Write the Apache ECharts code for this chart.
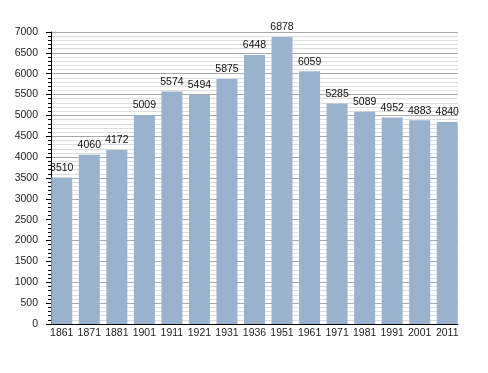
<!DOCTYPE html>
<html><head><meta charset="utf-8">
<script src="https://cdn.jsdelivr.net/npm/echarts@6/dist/echarts.min.js"></script>
<style>html,body{margin:0;padding:0;background:#fff}#c{width:488px;height:373px}</style>
</head><body><div id="c"></div>
<script>
const years = ['1861','1871','1881','1901','1911','1921','1931','1936','1951','1961','1971','1981','1991','2001','2011'];
const population = [3510,4060,4172,5009,5574,5494,5875,6448,6878,6059,5285,5089,4952,4883,4840];
const yMin = 0, yMax = 7000, yStep = 500;

const font = 'Liberation Sans, Arial, sans-serif';
const chart = echarts.init(document.getElementById('c'), null, {renderer:'canvas'});
chart.setOption({
  animation:false,
  backgroundColor:'#fff',
  grid:[
    {left:48, top:32, width:413, height:292},
    {left:51, top:32, width:407, height:292}
  ],
  xAxis:[
    {gridIndex:0, type:'category', data:years, boundaryGap:true,
     axisLine:{show:false}, axisTick:{show:false},
     axisLabel:{color:'#222', fontFamily:font, fontSize:10.5, margin:4, interval:0}},
    {gridIndex:1, type:'value', min:0, max:1, show:true,
     axisLine:{show:true, onZero:false, lineStyle:{color:'#000', width:1}},
     axisTick:{show:false}, axisLabel:{show:false}, splitLine:{show:false}}
  ],
  yAxis:[
    {gridIndex:0, type:'value', min:yMin, max:yMax, interval:yStep, show:false, splitLine:{show:false}},
    {gridIndex:1, type:'value', min:yMin, max:yMax, interval:yStep,
     axisLine:{show:true, lineStyle:{color:'#000', width:1}},
     axisTick:{show:true, length:5, lineStyle:{color:'#000'}},
     minorTick:{show:true, splitNumber:5, length:3, lineStyle:{color:'#000'}},
     axisLabel:{color:'#222', fontFamily:font, fontSize:10.5, margin:13, formatter:v => String(v)},
     splitLine:{show:true, lineStyle:{color:'#a8a8a8', width:1}},
     minorSplitLine:{show:true, lineStyle:{color:'#dcdcdc', width:1}}}
  ],
  series:[{
    type:'bar', xAxisIndex:0, yAxisIndex:0, data:population,
    barWidth:21,
    itemStyle:{color:'#99b3cf'},
    label:{show:true, position:'top', distance:4, color:'#111', fontFamily:font, fontSize:10.5}
  }]
});
</script></body></html>
